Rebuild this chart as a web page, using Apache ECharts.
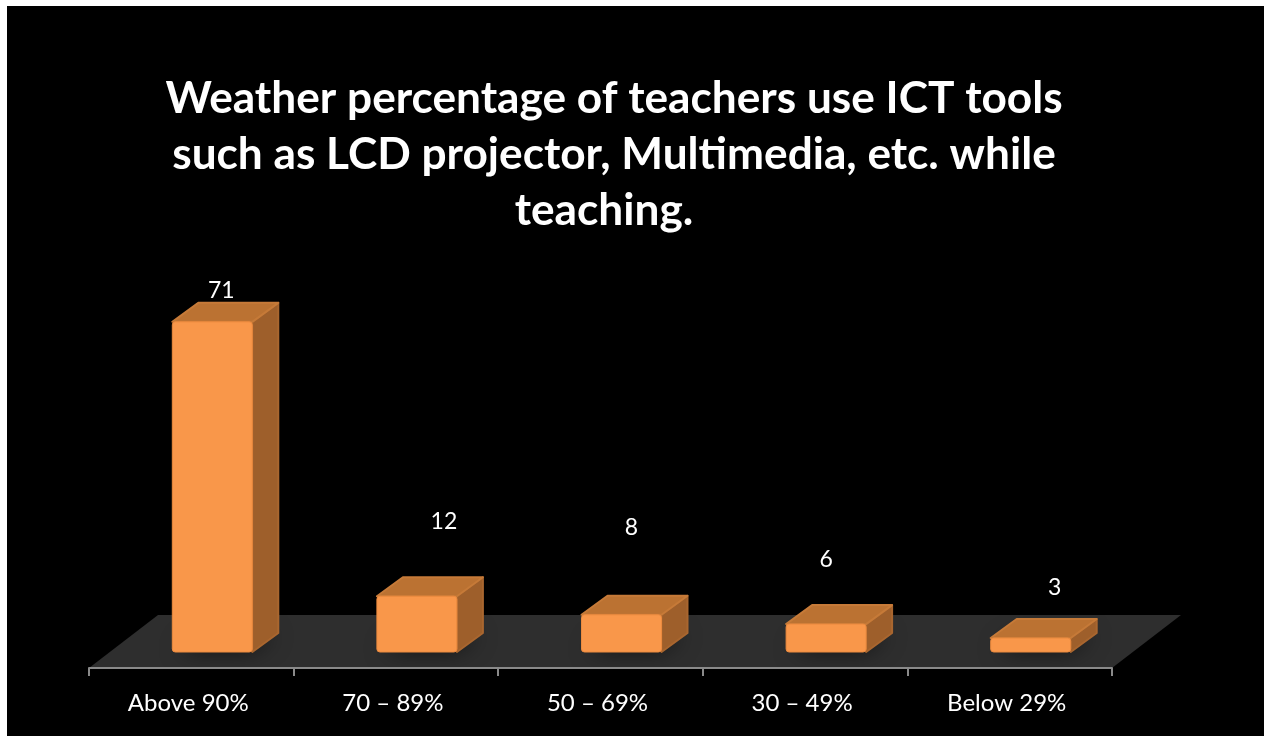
<!DOCTYPE html>
<html>
<head>
<meta charset="utf-8">
<title>ICT tools</title>
<script src="https://cdn.jsdelivr.net/npm/echarts@6/dist/echarts.min.js"></script>
<style>
  html, body { margin: 0; padding: 0; background: #fff; }
  #chart { position: absolute; left: 0; top: 0; width: 1264px; height: 736px; }
</style>
</head>
<body>
<div id="chart"></div>
<script>
const categories = ['Above 90%', '70 – 89%', '50 – 69%', '30 – 49%', 'Below 29%']
const values = [71, 12, 8, 6, 3]

// the value labels float at odd places in the original, nudged by hand
const labelNudgeX = [-4, 14, -3, -13, 11]
const labelNudgeY = [-12, -56, -68, -46, -31]

const titleLines = [
  'Weather percentage of teachers use ICT tools',
  'such as LCD projector, Multimedia, etc. while'
]
const titleLastLine = 'teaching.'

const GRID_LEFT = 89
const GRID_RIGHT = 1112
const BASE_Y = 652
const PER_UNIT = 4.65

const BAR_W = 80
const BAR_SHIFT = 21
const DEPTH_X = 26
const DEPTH_Y = 19
const FLOOR_DROP = 16
const FLOOR_X = 69
const FLOOR_Y = 53

const chart = echarts.init(document.getElementById('chart'), null, { renderer: 'canvas' })

const renderFloor = (params, api) => {
  const cs = params.coordSys
  const front = cs.y + cs.height + FLOOR_DROP
  return {
    type: 'polygon',
    silent: true,
    shape: {
      points: [
        [cs.x, front],
        [cs.x + cs.width, front],
        [cs.x + cs.width + FLOOR_X, front - FLOOR_Y],
        [cs.x + FLOOR_X, front - FLOOR_Y]
      ]
    },
    style: { fill: '#2e2e2e' }
  }
}

const renderBar = (params, api) => {
  const i = api.value(0)
  const top = api.coord([i, api.value(1)])
  const base = api.coord([i, 0])
  const x0 = top[0] + BAR_SHIFT - BAR_W / 2
  const x1 = x0 + BAR_W
  const y0 = top[1]
  const y1 = base[1]
  const nudgeX = labelNudgeX[params.dataIndex]
  const nudgeY = labelNudgeY[params.dataIndex]
  return {
    type: 'group',
    children: [
      {
        // soft contact shadow on the floor, sits behind the bar footprint
        type: 'polygon',
        silent: true,
        shape: {
          points: [[x0 + 6, y1 - 2], [x1 - 2, y1 - 2], [x1 + DEPTH_X - 4, y1 - DEPTH_Y + 2], [x0 + DEPTH_X + 4, y1 - DEPTH_Y + 2]]
        },
        style: { fill: 'rgba(0,0,0,0.8)', shadowBlur: 22, shadowColor: 'rgba(0,0,0,0.9)' }
      },
      {
        type: 'polygon',
        shape: {
          points: [[x1, y0], [x1 + DEPTH_X, y0 - DEPTH_Y], [x1 + DEPTH_X, y1 - DEPTH_Y], [x1, y1]]
        },
        style: { fill: '#9e5f2b', stroke: '#a9662f', lineWidth: 2, lineJoin: 'round' }
      },
      {
        type: 'polygon',
        shape: {
          points: [[x0, y0], [x0 + DEPTH_X, y0 - DEPTH_Y], [x1 + DEPTH_X, y0 - DEPTH_Y], [x1, y0]]
        },
        style: { fill: '#bb7232', stroke: '#c67a38', lineWidth: 2, lineJoin: 'round' }
      },
      {
        type: 'rect',
        shape: { x: x0, y: y0, width: BAR_W, height: y1 - y0, r: 3 },
        style: { fill: '#f9974a', stroke: '#ec8a3e', lineWidth: 1 }
      },
      {
        type: 'text',
        silent: true,
        style: {
          text: String(api.value(1)),
          x: x0 + BAR_W / 2 + DEPTH_X / 2 + nudgeX,
          y: y0 - DEPTH_Y + nudgeY,
          fill: '#fff',
          font: '23px Lato',
          align: 'center',
          verticalAlign: 'middle'
        }
      }
    ]
  }
}

const titleStyle = {
  color: '#fff',
  fontFamily: 'Lato',
  fontWeight: 'bold',
  fontSize: 44.2,
  lineHeight: 56
}

const option = {
  backgroundColor: '#000',
  animation: false,
  graphic: [
    // white margin of the screenshot, top and left
    { type: 'rect', silent: true, shape: { x: 0, y: 0, width: 1264, height: 6 }, style: { fill: '#fff' } },
    { type: 'rect', silent: true, shape: { x: 0, y: 0, width: 7, height: 736 }, style: { fill: '#fff' } }
  ],
  title: [
    { text: titleLines.join('\n'), left: 609, top: 66, textAlign: 'center', textStyle: titleStyle },
    // last line sits left of the other two in the original
    { text: titleLastLine, left: 599, top: 178, textAlign: 'center', textStyle: titleStyle }
  ],
  grid: { left: GRID_LEFT, right: 1264 - GRID_RIGHT, top: BASE_Y - 80 * PER_UNIT, bottom: 736 - BASE_Y },
  xAxis: {
    type: 'category',
    data: categories,
    offset: FLOOR_DROP,
    z: 5,
    axisLine: { onZero: false, lineStyle: { color: '#8a8a8a', width: 2 } },
    axisTick: { show: true, alignWithLabel: false, length: 8, lineStyle: { color: '#8a8a8a', width: 2 } },
    axisLabel: { color: '#fff', fontFamily: 'Lato', fontSize: 24, margin: 23, interval: 0, padding: [0, 6, 0, 0] }
  },
  yAxis: {
    type: 'value',
    min: 0,
    max: 80,
    show: false
  },
  series: [
    {
      type: 'custom',
      name: 'floor',
      coordinateSystem: 'cartesian2d',
      renderItem: renderFloor,
      data: [[0, 0]],
      z: 1,
      silent: true
    },
    {
      type: 'custom',
      name: 'teachers',
      coordinateSystem: 'cartesian2d',
      renderItem: renderBar,
      encode: { x: 0, y: 1 },
      data: values.map((v, i) => [i, v]),
      z: 2
    }
  ]
}

chart.setOption(option)
</script>
</body>
</html>
